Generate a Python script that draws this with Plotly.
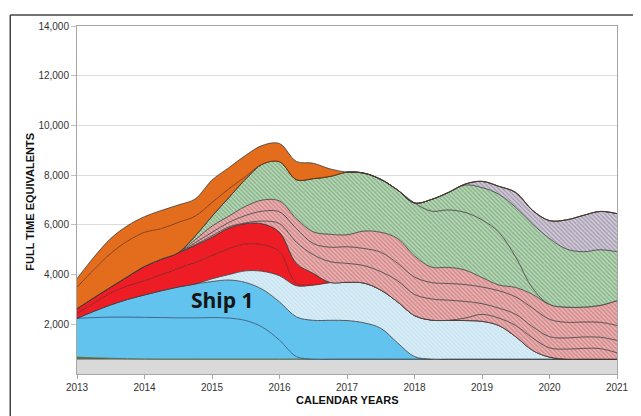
import plotly.graph_objects as go

# ---------------- data (FTE, cumulative top of each stacked band) ----------------
YEARS = [2013.0, 2013.25, 2013.5, 2013.75, 2014.0, 2014.25, 2014.5, 2014.75,
         2015.0, 2015.25, 2015.5, 2015.75, 2016.0, 2016.25, 2016.5, 2016.75,
         2017.0, 2017.25, 2017.5, 2017.75, 2018.0, 2018.25, 2018.5, 2018.75,
         2019.0, 2019.25, 2019.5, 2019.75, 2020.0, 2020.25, 2020.5, 2020.75, 2021.0]

BASE_TOP = [600] * 33
OLIVE_TOP = [680, 652, 632, 615, 605, 600, 600, 600, 600, 600, 600, 600, 600, 600, 600, 600,
             600, 600, 600, 600, 600, 600, 600, 600, 600, 600, 600, 600, 600, 600, 600, 600, 600]
SHIP1_LOWER_TOP = [2240, 2270, 2290, 2290, 2280, 2270, 2260, 2260, 2270, 2250, 2150, 1880, 1360, 700, 600, 600,
                   600, 600, 600, 600, 600, 600, 600, 600, 600, 600, 600, 600, 600, 600, 600, 600, 600]
SHIP1_TOP = [2240, 2520, 2780, 3000, 3180, 3350, 3500, 3620, 3720, 3780, 3680, 3400, 2900, 2300, 2160, 2160,
             2150, 2060, 1840, 1250, 700, 600, 600, 600, 600, 600, 600, 600, 600, 600, 600, 600, 600]
LIGHTBLUE_TOP = [2240, 2520, 2780, 3000, 3180, 3350, 3500, 3620, 3830, 4000, 4150, 4130, 3950, 3550, 3580, 3680,
                 3690, 3660, 3380, 2900, 2350, 2170, 2160, 2150, 2120, 1950, 1500, 950, 680, 600, 600, 600, 600]
RED_LOWER_TOP = [2430, 2850, 3260, 3550, 3750, 4000, 4250, 4480, 4760, 5050, 5230, 5200, 4920, 3650, 3580, 3680,
                 3690, 3660, 3380, 2900, 2350, 2170, 2160, 2150, 2120, 1950, 1500, 950, 680, 600, 600, 600, 600]
RED_TOP = [2630, 3070, 3500, 3920, 4330, 4620, 4880, 5170, 5500, 5870, 6050, 6040, 5700, 4450, 4050, 3680,
           3690, 3660, 3380, 2900, 2350, 2170, 2160, 2150, 2120, 1950, 1500, 950, 680, 600, 600, 600, 600]
PINK_A_TOP = [2630, 3070, 3500, 3920, 4330, 4620, 4880, 5170, 5500, 5870, 6050, 6040, 5700, 4450, 4050, 3680,
              3690, 3660, 3380, 2900, 2350, 2170, 2160, 2250, 2400, 2250, 1950, 1450, 1050, 1000, 1030, 1020, 850]
PINK_B_TOP = [2630, 3070, 3500, 3920, 4330, 4620, 4880, 5200, 5560, 5920, 6080, 6150, 6050, 5300, 4800, 4520,
              4450, 4360, 4120, 3750, 3200, 3020, 2970, 2920, 2830, 2650, 2400, 1900, 1500, 1450, 1490, 1480, 1350]
PINK_C_TOP = [2630, 3070, 3500, 3920, 4330, 4620, 4880, 5280, 5700, 6100, 6380, 6550, 6520, 5850, 5250, 5100,
              5120, 5050, 4900, 4450, 3900, 3680, 3640, 3600, 3500, 3350, 3100, 2650, 2200, 2080, 2090, 2080, 1950]
PINK_D_TOP = [2630, 3070, 3500, 3920, 4330, 4620, 4880, 5400, 5950, 6350, 6750, 7000, 6960, 6250, 5720, 5620,
              5600, 5750, 5700, 5450, 4750, 4300, 4290, 4180, 3880, 3580, 3480, 3200, 2800, 2690, 2690, 2760, 2950]
GREEN_A_TOP = [2630, 3070, 3500, 3920, 4330, 4620, 4880, 5550, 6350, 7100, 7850, 8450, 8540, 7820, 7860, 7950,
               8120, 8080, 7830, 7400, 6880, 6550, 6600, 6500, 6200, 5700, 4700, 3450, 2800, 2690, 2690, 2760, 2950]
GREEN_B_TOP = [2630, 3070, 3500, 3920, 4330, 4620, 4880, 5550, 6350, 7100, 7850, 8450, 8540, 7820, 7860, 7950,
               8120, 8080, 7830, 7400, 6880, 7020, 7300, 7600, 7500, 7230, 6700, 6030, 5450, 5030, 4920, 5000, 4920]
PURPLE_TOP = [2630, 3070, 3500, 3920, 4330, 4620, 4880, 5550, 6350, 7100, 7850, 8450, 8540, 7820, 7860, 7950,
              8120, 8080, 7830, 7400, 6880, 7020, 7300, 7640, 7750, 7550, 7300, 6580, 6170, 6200, 6380, 6540, 6450]
ORANGE_LOWER_TOP = [3490, 4200, 4850, 5350, 5700, 5850, 6100, 6350, 6900, 7450, 7950, 8450, 8540, 7820, 7860, 7950,
                    8120, 8080, 7830, 7400, 6880, 7020, 7300, 7640, 7750, 7550, 7300, 6580, 6170, 6200, 6380, 6540, 6450]
ORANGE_TOP = [3830, 4700, 5450, 5970, 6330, 6580, 6800, 7040, 7800, 8300, 8800, 9200, 9270, 8550, 8480, 8250,
              8120, 8080, 7830, 7400, 6880, 7020, 7300, 7640, 7750, 7550, 7300, 6580, 6170, 6200, 6380, 6540, 6450]

Y_TICKS = [2000, 4000, 6000, 8000, 10000, 12000, 14000]
Y_TICK_TEXT = ["2,000", "4,000", "6,000", "8,000", "10,000", "12,000", "14,000"]
X_TICKS = [2013, 2014, 2015, 2016, 2017, 2018, 2019, 2020, 2021]

# ---------------- styles ----------------
GRAY = "#d9d9d9"
OLIVE = "#7a7a2a"
BLUE = "#63c3ef"
RED = "#ee1c25"
ORANGE = "#e36c1d"
EDGE = "#3a3a3a"


def pat(bg, fg, solidity=0.4):
    return dict(shape="\\", bgcolor=bg, fgcolor=fg, size=3, solidity=solidity, fillmode="replace")


PINK = pat("#eeb0b0", "#c98587")
GREEN = pat("#b6d7b6", "#84ae84")
PURPLE = pat("#d2cbd9", "#a097ab")
LIGHTBLUE = pat("#d6ecf7", "#c4e1ef", 0.3)

LAYERS = [
    (BASE_TOP, dict(fillcolor=GRAY), "#30506e"),
    (OLIVE_TOP, dict(fillcolor=OLIVE), "#5a5a1a"),
    (SHIP1_LOWER_TOP, dict(fillcolor=BLUE), "#2d4e6e"),
    (SHIP1_TOP, dict(fillcolor=BLUE), EDGE),
    (LIGHTBLUE_TOP, dict(fillpattern=LIGHTBLUE), EDGE),
    (RED_LOWER_TOP, dict(fillcolor=RED), "#7a1a1a"),
    (RED_TOP, dict(fillcolor=RED), EDGE),
    (PINK_A_TOP, dict(fillpattern=PINK), EDGE),
    (PINK_B_TOP, dict(fillpattern=PINK), EDGE),
    (PINK_C_TOP, dict(fillpattern=PINK), EDGE),
    (PINK_D_TOP, dict(fillpattern=PINK), EDGE),
    (GREEN_A_TOP, dict(fillpattern=GREEN), EDGE),
    (GREEN_B_TOP, dict(fillpattern=GREEN), EDGE),
    (PURPLE_TOP, dict(fillpattern=PURPLE), EDGE),
    (ORANGE_LOWER_TOP, dict(fillcolor=ORANGE), "#6a3010"),
    (ORANGE_TOP, dict(fillcolor=ORANGE), EDGE),
]

fig = go.Figure()
fig.add_trace(go.Scatter(x=YEARS, y=[0] * len(YEARS), mode="lines",
                         line=dict(width=0, color=GRAY), hoverinfo="skip", showlegend=False))
for ys, fillspec, lc in LAYERS:
    fig.add_trace(go.Scatter(
        x=YEARS, y=ys, mode="lines", fill="tonexty",
        line=dict(color=lc, width=0.8, shape="spline", smoothing=1.0),
        hoverinfo="skip", showlegend=False, **fillspec))

fig.add_annotation(x=2015.15, y=2980, text="<b>Ship 1</b>", showarrow=False,
                   font=dict(family="Open Sans", size=21, color="#151515"))

TICKFONT = dict(family="Liberation Sans, Arial", size=10, color="#333333")
# page body has an 8px margin: figure is 633x408 so the plot area sits at x 77-619, y 24-374
fig.update_layout(
    width=633, height=408,
    margin=dict(l=69, r=22, t=16, b=42),
    paper_bgcolor="white", plot_bgcolor="white",
    font=dict(family="Liberation Sans, Arial"),
    xaxis=dict(range=[2013, 2021], tickvals=X_TICKS, ticktext=[str(v) for v in X_TICKS],
               showgrid=False, zeroline=False, showline=True, linecolor="#a6a6a6", linewidth=1,
               mirror=True, ticks="outside", ticklen=4, tickcolor="#a6a6a6", tickfont=TICKFONT),
    yaxis=dict(range=[0, 14000], tickvals=Y_TICKS, ticktext=Y_TICK_TEXT,
               showgrid=True, gridcolor="#dcdcdc", gridwidth=1, zeroline=False,
               showline=True, linecolor="#a6a6a6", linewidth=1, mirror=True,
               ticks="outside", ticklen=5, tickcolor="#c0c0c0", tickfont=TICKFONT),
)

fig.add_annotation(xref="paper", yref="paper", x=0.5, y=-0.074, xanchor="center", yanchor="middle",
                   text="<b>CALENDAR YEARS</b>", showarrow=False,
                   font=dict(family="Liberation Sans, Arial", size=11, color="#111111"))
fig.add_annotation(xref="paper", yref="paper", x=-0.086, y=0.494, xanchor="center", yanchor="middle",
                   textangle=-90, text="<b>FULL TIME EQUIVALENTS</b>", showarrow=False,
                   font=dict(family="Liberation Sans, Arial", size=11, color="#111111"))

# outer frame (left and top)
fig.add_shape(type="line", xref="paper", yref="paper", x0=-0.1236, y0=1.0314, x1=1.05, y1=1.0314,
              line=dict(color="#444444", width=1.5))
fig.add_shape(type="line", xref="paper", yref="paper", x0=-0.1236, y0=1.0314, x1=-0.1236, y1=-0.13,
              line=dict(color="#444444", width=1.5))

fig.write_html("out.html")
